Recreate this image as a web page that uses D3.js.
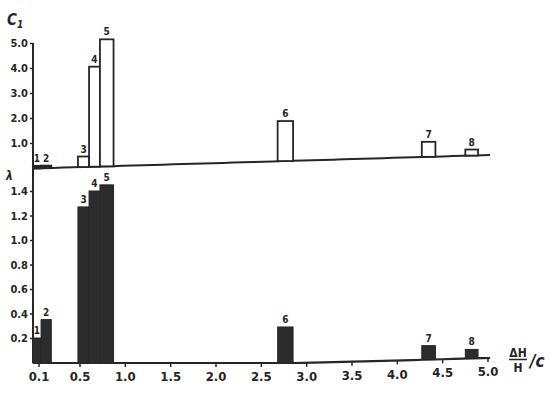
<!DOCTYPE html>
<html>
<head>
<meta charset="utf-8">
<script src="https://cdn.jsdelivr.net/npm/d3@7"></script>
<style>
	body { margin: 0; background: #ffffff; }
	text { font-family: "DejaVu Sans", sans-serif; font-stretch: condensed; font-weight: bold; fill: #252525; }
</style>
</head>
<body>
<svg id="vis"></svg>
<script>
// bar numbers and their left/right edges along dH/H
var barIds   = ["1", "2", "3", "4", "5", "6", "7", "8"];
var barStart = [0.04, 0.12, 0.48, 0.60, 0.72, 2.68, 4.27, 4.75];
var barEnd   = [0.12, 0.22, 0.60, 0.72, 0.87, 2.85, 4.42, 4.89];

// upper panel (C1) and lower panel values
var c1Values    = [0.1, 0.1, 0.42, 4.0, 5.08, 1.6, 0.6, 0.24];
var lowerValues = [0.2, 0.35, 1.27, 1.40, 1.45, 0.29, 0.11, 0.07];

// axis ticks
var xTicks      = [0.1, 0.5, 1.0, 1.5, 2.0, 2.5, 3.0, 3.5, 4.0, 4.5, 5.0];
var xTickLabels = ["0.1", "0.5", "1.0", "1.5", "2.0", "2.5", "3.0", "3.5", "4.0", "4.5", "5.0"];
var c1Ticks      = [1, 2, 3, 4, 5];
var c1TickLabels = ["1.0", "2.0", "3.0", "4.0", "5.0"];
var lowerTicks      = [0.2, 0.4, 0.6, 0.8, 1.0, 1.2, 1.4];
var lowerTickLabels = ["0.2", "0.4", "0.6", "0.8", "1.0", "1.2", "1.4"];

var ink = "#262626";
var W = 552, H = 396;

var svg = d3.select("svg#vis")
	.attr("width", W)
	.attr("height", H);

svg.append("rect")
	.attr("width", W)
	.attr("height", H)
	.attr("fill", "#ffffff");

var bars = barIds.map(function(id, i) {
	return {id: id, x0: barStart[i], x1: barEnd[i], c1: c1Values[i], low: lowerValues[i]};
});

// scales (hand drawn axis: the first division is shorter)
var xScale = d3.scaleLinear().domain([0.1, 0.5, 5.0]).range([39, 80, 488]);
var yTop = d3.scaleLinear().domain([0, 5]).range([168, 43]);
var yLow = d3.scaleLinear().domain([0, 1.4]).range([362.5, 191]);

// the baselines are not quite level in the drawing
var topBase = d3.scaleLinear().domain([33, 490]).range([168.5, 155]);
var lowBase = d3.scaleLinear().domain([33, 300, 490]).range([363, 363, 358]).clamp(true);

var axisX = 33;

// vertical axis line through both panels
svg.append("line")
	.attr("x1", axisX).attr("x2", axisX)
	.attr("y1", yTop(5)).attr("y2", 363)
	.attr("stroke", ink).attr("stroke-width", 2);

// upper y axis
var topAxis = svg.append("g")
	.attr("transform", "translate(" + axisX + ",0)")
	.call(d3.axisLeft(yTop).tickValues(c1Ticks).tickFormat(function(d, i) { return c1TickLabels[i]; }).tickSize(3).tickPadding(2));
topAxis.select(".domain").remove();

// lower y axis
var lowAxis = svg.append("g")
	.attr("transform", "translate(" + axisX + ",0)")
	.call(d3.axisLeft(yLow).tickValues(lowerTicks).tickFormat(function(d, i) { return lowerTickLabels[i]; }).tickSize(3).tickPadding(2));
lowAxis.select(".domain").remove();

svg.selectAll(".tick line").attr("stroke", ink).attr("stroke-width", 1.5);
svg.selectAll(".tick text")
	.attr("font-family", null)
	.style("font-size", "11px")
	.attr("fill", ink);

// baselines
var xs = d3.range(axisX, 491, 10).concat([490]);
svg.append("path")
	.attr("d", d3.line()(xs.map(function(x) { return [x, topBase(x)]; })))
	.attr("fill", "none").attr("stroke", ink).attr("stroke-width", 2);
svg.append("path")
	.attr("d", d3.line()(xs.map(function(x) { return [x, lowBase(x)]; })))
	.attr("fill", "none").attr("stroke", ink).attr("stroke-width", 2.2);

// x axis along the lower baseline
var xAxis = svg.append("g")
	.attr("transform", "translate(0,363)")
	.call(d3.axisBottom(xScale).tickValues(xTicks).tickFormat(function(d, i) { return xTickLabels[i]; }).tickSize(4).tickPadding(5));
xAxis.select(".domain").remove();
xAxis.attr("font-family", null);
xAxis.selectAll(".tick")
	.attr("transform", function(d) { return "translate(" + xScale(d) + "," + (lowBase(xScale(d)) - 363) + ")"; });
xAxis.selectAll(".tick line").attr("stroke", ink).attr("stroke-width", 1.5);
xAxis.selectAll(".tick text")
	.style("font-size", "13px")
	.attr("fill", ink);
topAxis.attr("font-family", null);
lowAxis.attr("font-family", null);

// upper panel bars (open)
var upper = svg.append("g").attr("class", "upper");
upper.selectAll("rect").data(bars).enter().append("rect")
	.attr("x", function(d) { return xScale(d.x0); })
	.attr("width", function(d) { return xScale(d.x1) - xScale(d.x0); })
	.attr("y", function(d) { var b = topBase(xScale((d.x0 + d.x1) / 2)); return b - (yTop(0) - yTop(d.c1)); })
	.attr("height", function(d) { return yTop(0) - yTop(d.c1); })
	.attr("fill", function(d) { return d.c1 < 0.2 ? ink : "#ffffff"; })
	.attr("stroke", ink)
	.attr("stroke-width", 1.8);

upper.selectAll("text").data(bars).enter().append("text")
	.text(function(d) { return d.id; })
	.attr("x", function(d) { return (xScale(d.x0) + xScale(d.x1)) / 2; })
	.attr("y", function(d) { var b = topBase(xScale((d.x0 + d.x1) / 2)); return b - (yTop(0) - yTop(d.c1)) - 4; })
	.style("text-anchor", "middle")
	.style("font-size", "10px");

// lower panel bars (filled)
var lower = svg.append("g").attr("class", "lower");
lower.selectAll("rect").data(bars).enter().append("rect")
	.attr("x", function(d) { return xScale(d.x0); })
	.attr("width", function(d) { return xScale(d.x1) - xScale(d.x0); })
	.attr("y", function(d) { return yLow(d.low) - (363 - lowBase(xScale((d.x0 + d.x1) / 2))); })
	.attr("height", function(d) { return yLow(0) - yLow(d.low) + 0.5; })
	.attr("fill", "#2c2c2c")
	.attr("stroke", ink)
	.attr("stroke-width", 1);

lower.selectAll("text").data(bars).enter().append("text")
	.text(function(d) { return d.id; })
	.attr("x", function(d) { return (xScale(d.x0) + xScale(d.x1)) / 2; })
	.attr("y", function(d) { return yLow(d.low) - (363 - lowBase(xScale((d.x0 + d.x1) / 2))) - 4; })
	.style("text-anchor", "middle")
	.style("font-size", "10px");

// panel symbols
var c1 = svg.append("text")
	.attr("x", 7).attr("y", 25)
	.style("font-size", "15px")
	.style("font-style", "italic");
c1.append("tspan").text("C");
c1.append("tspan").text("1").attr("dy", 3).style("font-size", "10px");

svg.append("text")
	.text("λ")
	.attr("x", 6).attr("y", 180)
	.style("font-size", "12px")
	.style("font-style", "italic");

// x axis title: dH/H / c
var xt = svg.append("g").attr("transform", "translate(518,0)");
xt.append("text").text("ΔH")
	.attr("x", 0).attr("y", 357)
	.style("text-anchor", "middle")
	.style("font-size", "12px");
xt.append("line")
	.attr("x1", -9).attr("x2", 9)
	.attr("y1", 359.5).attr("y2", 359.5)
	.attr("stroke", ink).attr("stroke-width", 1.5);
xt.append("text").text("H")
	.attr("x", 0).attr("y", 372)
	.style("text-anchor", "middle")
	.style("font-size", "12px");
xt.append("text").text("/c")
	.attr("x", 12).attr("y", 367)
	.style("font-size", "17px")
	.style("font-style", "italic");
</script>
</body>
</html>
